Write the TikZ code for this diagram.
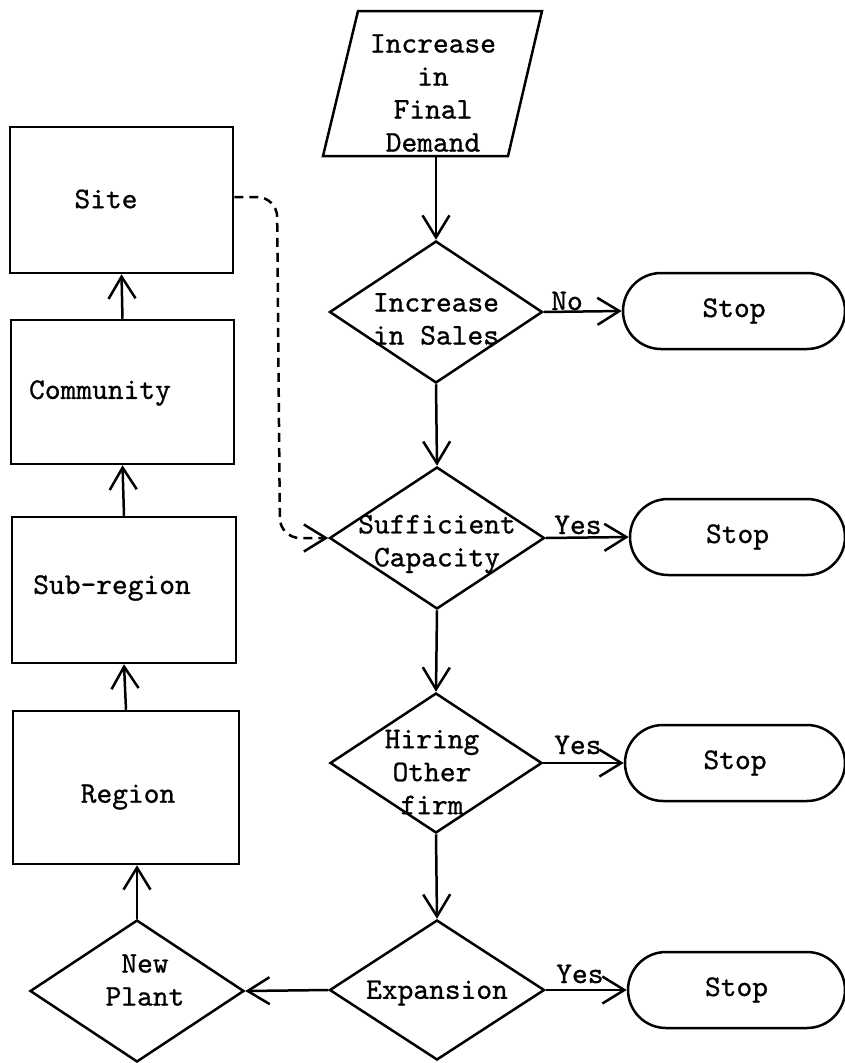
\documentclass[tikz,border=0pt]{standalone}
\usepackage{fontspec}
\newfontfamily\tw{lmmono10-regular}[Extension=.otf,FakeBold=0.8]
\usetikzlibrary{arrows.meta,shapes.geometric,shapes.misc}
\begin{document}
\begin{tikzpicture}[x=1pt,y=-1pt,line width=2.5pt,
  font=\tw\fontsize{30}{33}\selectfont,
  arr/.style={-{Straight Barb[length=22pt,width=27pt]}},
  box/.style={draw,rectangle,inner sep=0pt},
  dec/.style={draw,diamond,inner sep=0pt,minimum width=213pt,minimum height=142pt},
  stopbox/.style={draw,rounded rectangle,inner sep=0pt,minimum height=76pt},
  txt/.style={align=center,inner sep=0pt},
  lbl/.style={anchor=base west,inner sep=0pt}]
\useasboundingbox (0,0) rectangle (845,1063);

% input parallelogram
\draw (358,11) -- (542,11) -- (508,156) -- (323,156) -- cycle;
\coordinate (demB) at (436,156);
\node[txt] (demT) at (433,93) {Increase\\in\\Final\\Demand};

% decisions
\node[dec] (d1) at (436,312) {};
\node[dec,minimum width=215pt] (d2) at (437,538) {};
\node[dec,minimum width=212pt,minimum height=140pt] (d3) at (436,763) {};
\node[dec,minimum width=215pt,minimum height=140pt] (d4) at (437,990) {};
\node[dec,minimum width=214pt,minimum height=142pt] (np) at (137,991) {};

\node[txt] (d1T) at (436,319) {Increase\\in Sales};
\node[txt] (d2T) at (437,544) {Sufficient\\Capacity};
\node[txt] (d3T) at (432,772) {Hiring\\Other\\firm};
\node[txt] (d4T) at (437,993) {Expansion};
\node[txt] (npT) at (145,980) {New\\Plant};

% stops
\node[stopbox,minimum width=222pt] (s1) at (734,311) {Stop};
\node[stopbox,minimum width=215pt] (s2) at (737.5,537) {Stop};
\node[stopbox,minimum width=220pt] (s3) at (735,763) {Stop};
\node[stopbox,minimum width=217pt] (s4) at (736.5,990) {Stop};

% left boxes
\node[box,minimum width=223pt,minimum height=146pt] (site) at (121.5,200) {};
\node[box,minimum width=223pt,minimum height=144pt] (comm) at (122.5,392) {};
\node[box,minimum width=224pt,minimum height=146pt] (sub) at (124,590) {};
\node[box,minimum width=226pt,minimum height=153pt] (reg) at (126,787.5) {};

\node[txt] (siteT) at (106,199) {Site};
\node[txt] (commT) at (100,393) {Community};
\node[txt] (subT) at (112,588) {Sub-region};
\node[txt] (regT) at (128,797) {Region};

% main flow
\draw[arr] (demB) -- (d1.north);
\draw[arr] (d1.south) -- (d2.north);
\draw[arr] (d2.south) -- (d3.north);
\draw[arr] (d3.south) -- (d4.north);

\draw[arr] (d1.east) -- (s1.west);
\draw[arr] (d2.east) -- (s2.west);
\draw[arr] (d3.east) -- (s3.west);
\draw[arr] (d4.east) -- (s4.west);

\node[lbl] (lNo) at (550,310) {No};
\node[lbl] (lY2) at (553,534) {Yes};
\node[lbl] (lY3) at (553,754) {Yes};
\node[lbl] (lY4) at (555,983) {Yes};

\draw[arr] (d4.west) -- (np.east);
\draw[arr] (np.north) -- (np.north |- reg.south);
\draw[arr] (reg.north) -- (sub.south);
\draw[arr] (sub.north) -- (comm.south);
\draw[arr] (comm.north) -- (site.south);

% dashed feedback
\draw[arr,dash pattern=on 9pt off 6pt,rounded corners=20pt]
  ([yshift=3pt]site.east) -- (277,197) -- (280,538) -- (d2.west);
\end{tikzpicture}
\end{document}
